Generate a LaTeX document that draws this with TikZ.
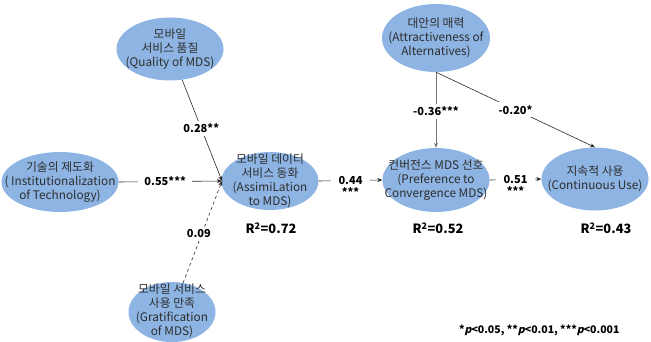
\documentclass[tikz,border=0pt]{standalone}
\usepackage{fontspec}
\setmainfont{Noto Sans CJK KR}
\newfontfamily\slfont{Noto Sans CJK KR}[FakeSlant=0.22]
\usetikzlibrary{shapes.geometric,arrows.meta}
\definecolor{ellfill}{RGB}{141,180,226}
\definecolor{elltext}{RGB}{45,45,45}
\tikzset{
  lv/.style={ellipse, fill=ellfill, draw=none, inner sep=0pt},
  lvtext/.style={align=center, text=elltext, inner sep=0pt,
    font=\fontsize{11.8}{14}\selectfont},
  pathlbl/.style={fill=white, inner ysep=3pt, inner xsep=6pt, font=\bfseries\fontsize{11}{11}\selectfont, align=center},
  rsq/.style={font=\bfseries\fontsize{12.8}{14}\selectfont},
  conn/.style={draw=black!85, line width=0.6pt, -{Stealth[length=5pt,width=4pt]}},
}
\newcommand{\pit}{{\slfont\bfseries p}}
\begin{document}
\begin{tikzpicture}[x=1pt,y=-1pt]
\useasboundingbox (0,0) rectangle (651,342);
% ellipses
\node[lv, minimum width=107pt, minimum height=63pt] (qual) at (170,49) {};
\node[lv, minimum width=117pt, minimum height=60pt] (inst) at (60,182) {};
\node[lv, minimum width=97pt, minimum height=58pt] (assim) at (270,181) {};
\node[lv, minimum width=87pt, minimum height=60pt] (grat) at (172,312) {};
\node[lv, minimum width=108pt, minimum height=68pt] (attr) at (436,38) {};
\node[lv, minimum width=107pt, minimum height=64pt] (pref) at (436,180) {};
\node[lv, minimum width=107pt, minimum height=63pt] (cont) at (595,179) {};
% texts
\node[lvtext] (qualt) at (qual) {모바일\\서비스 품질\\(Quality of MDS)};
\node[lvtext] (instt) at (inst) {기술의 제도화\\( Institutionalization\\of Technology)};
\node[lvtext] (assimt) at (assim) {모바일 데이터\\서비스 동화\\(AssimiLation\\to MDS)};
\node[lvtext] (gratt) at ([yshift=1pt]grat.center) {모바일 서비스\\사용 만족\\(Gratification\\of MDS)};
\node[lvtext] (attrt) at (attr) {대안의 매력\\(Attractiveness of\\Alternatives)};
\node[lvtext] (preft) at (pref) {컨버전스 MDS 선호\\(Preference to\\Convergence MDS)};
\node[lvtext] (contt) at (cont) {지속적 사용\\(Continuous Use)};
\coordinate (conv) at (222,181);
% R squared
\node[rsq] (r1) at (271,228) {R\textsuperscript{2}=0.72};
\node[rsq] (r2) at (438,228) {R\textsuperscript{2}=0.52};
\node[rsq] (r3) at (606,228) {R\textsuperscript{2}=0.43};
% connectors
\draw[conn] (qual) -- node[pathlbl, pos=0.48] {0.28**} (conv);
\draw[conn] (inst.east) -- node[pathlbl, pos=0.45] {0.55***} (conv);
\draw[conn, dashed] (grat) -- node[pathlbl, pos=0.48, xshift=-3pt] {0.09} (conv);
\draw[conn] (assim.east) -- node[pathlbl, inner xsep=8pt, pos=0.5, yshift=-6pt] {0.44\\[1pt]***} (pref.west);
\draw[conn] (pref.east) -- node[pathlbl, inner xsep=8pt, pos=0.5, yshift=-6pt] {0.51\\[1pt]***} (cont.west);
\draw[conn, draw=black!55] (attr.south) -- node[pathlbl, pos=0.52] {-0.36***} (pref.north);
\draw[conn] (attr.south) -- node[pathlbl, pos=0.5] {-0.20*} (cont.north);
% legend
\node[font=\bfseries\fontsize{10.5}{11}\selectfont, anchor=east] (legend) at (623,330)
  {*\pit<0.05, **\pit<0.01, ***\pit<0.001};
\end{tikzpicture}
\end{document}
